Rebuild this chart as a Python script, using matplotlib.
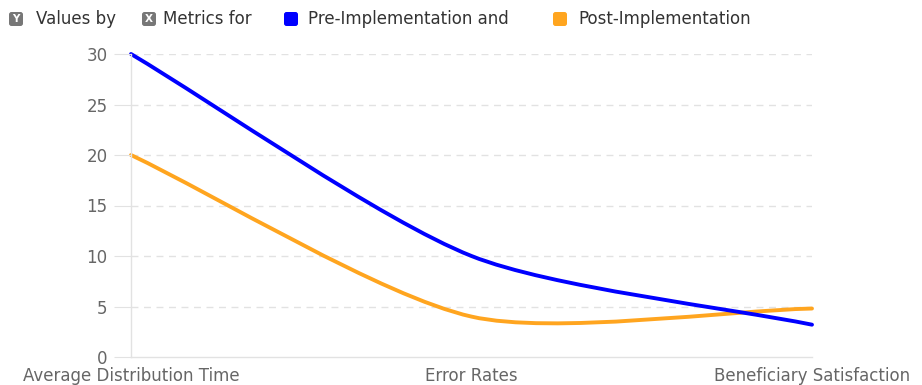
import matplotlib
matplotlib.use("Agg")
import matplotlib.pyplot as plt
import numpy as np
from matplotlib.path import Path
from matplotlib.patches import PathPatch, FancyBboxPatch
from matplotlib.transforms import IdentityTransform

categories = ["Average Distribution Time", "Error Rates", "Beneficiary Satisfaction"]
pre_impl = [30, 10, 3.2]
post_impl = [20, 4, 4.8]
y_ticks = [0, 5, 10, 15, 20, 25, 30]

BLUE = "#0000ff"
ORANGE = "#ffa51f"
GRID = "#e2e2e2"
TEXT = "#666666"

plt.rcParams["font.family"] = ["DejaVu Sans"]

W, H = 922, 385
fig = plt.figure(figsize=(W / 100, H / 100), dpi=100)
ax = fig.add_axes([131 / W, 1 - 357 / H, (812 - 131) / W, (357 - 54) / H])
ax.set_xlim(0, len(categories) - 1)
ax.set_ylim(0, 30)

for s in ["top", "right"]:
    ax.spines[s].set_visible(False)
for s in ["left", "bottom"]:
    ax.spines[s].set_color(GRID)
    ax.spines[s].set_linewidth(1)

ax.set_yticks(y_ticks)
ax.set_yticklabels([str(v) for v in y_ticks])
ax.tick_params(axis="y", length=12, color=GRID, pad=5, labelcolor=TEXT, labelsize=12)
ax.set_xticks(range(len(categories)))
ax.set_xticklabels(categories)
ax.tick_params(axis="x", length=0, pad=7, labelcolor=TEXT, labelsize=12)
for y in y_ticks[1:]:
    ax.axhline(y, color=GRID, lw=1, ls=(0, (5, 4)), zorder=0)


def spline_patch(ax, values, color, tension=0.25):
    # cubic bezier through the points, control points built in pixel space
    fig.canvas.draw()
    pts = ax.transData.transform(np.column_stack([np.arange(len(values)), values]))
    n = len(pts)
    cp_prev, cp_next = [], []
    for i in range(n):
        p0 = pts[max(i - 1, 0)]
        p1 = pts[i]
        p2 = pts[min(i + 1, n - 1)]
        d01 = np.hypot(*(p1 - p0))
        d12 = np.hypot(*(p2 - p1))
        tot = d01 + d12
        s01 = d01 / tot if tot else 0
        s12 = d12 / tot if tot else 0
        cp_prev.append(p1 - tension * s01 * (p2 - p0))
        cp_next.append(p1 + tension * s12 * (p2 - p0))
    verts = [pts[0]]
    codes = [Path.MOVETO]
    for i in range(n - 1):
        verts += [cp_next[i], cp_prev[i + 1], pts[i + 1]]
        codes += [Path.CURVE4] * 3
    verts = ax.transData.inverted().transform(np.array(verts))
    patch = PathPatch(Path(verts, codes), facecolor="none", edgecolor=color,
                      lw=2.8, capstyle="round", joinstyle="round", clip_on=False)
    ax.add_patch(patch)


spline_patch(ax, post_impl, ORANGE)
spline_patch(ax, pre_impl, BLUE)

# legend row across the top
ly = H - 19
fs = 12


def icon(x, color, letter=None):
    box = FancyBboxPatch((x, ly - 7), 14, 14, boxstyle="round,pad=0,rounding_size=2.5",
                         transform=IdentityTransform(), facecolor=color, edgecolor="none")
    fig.patches.append(box)
    if letter:
        fig.text((x + 7) / W, ly / H, letter, color="white", fontsize=7.5,
                 fontweight="bold", ha="center", va="center")


icon(9, "#777777", "Y")
fig.text(36 / W, ly / H, "Values by", color="#333333", fontsize=fs, va="center")
icon(142, "#777777", "X")
fig.text(163 / W, ly / H, "Metrics for", color="#333333", fontsize=fs, va="center")
icon(284, BLUE)
fig.text(308 / W, ly / H, "Pre-Implementation and", color="#333333", fontsize=fs, va="center")
icon(553, ORANGE)
fig.text(578 / W, ly / H, "Post-Implementation", color="#333333", fontsize=fs, va="center")

fig.savefig("out.png", dpi=100)
